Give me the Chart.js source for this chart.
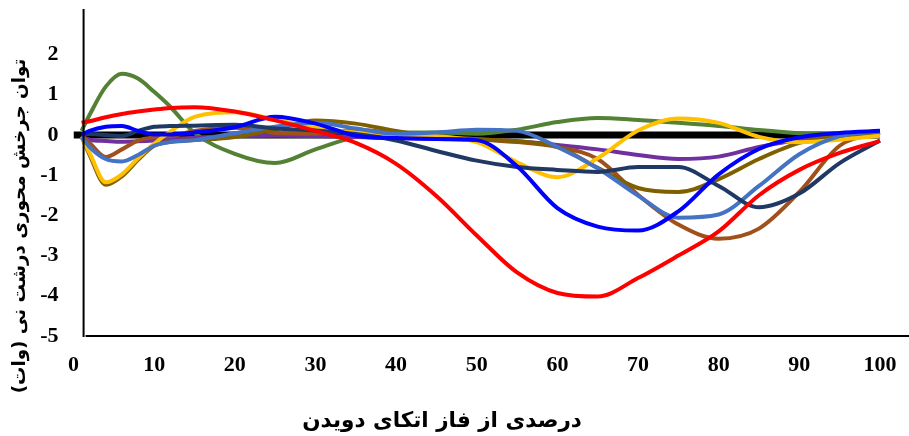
<!DOCTYPE html>
<html lang="fa">
<head>
<meta charset="UTF-8">
<title>توان چرخش محوری درشت نی</title>
<script src="https://cdn.jsdelivr.net/npm/chart.js"></script>
<style>
  html, body { margin: 0; padding: 0; background: #fff; }
  #wrap { width: 909px; height: 436px; }
</style>
</head>
<body>
<div id="wrap"><canvas id="power-chart"></canvas></div>
<script>
// percent of stance phase
const pct = [1, 2, 4, 6, 8, 10, 12, 15, 20, 25, 30, 35, 40, 45, 50, 55, 60, 65, 70, 75, 80, 85, 90, 95, 100];

const red       = [0.30, 0.34, 0.44, 0.52, 0.58, 0.63, 0.67, 0.69, 0.58, 0.36, 0.10, -0.20, -0.72, -1.52, -2.50, -3.42, -3.93, -4.02, -3.56, -3.00, -2.40, -1.50, -0.87, -0.45, -0.15];
const green     = [0.10, 0.50, 1.20, 1.52, 1.40, 1.07, 0.70, 0.05, -0.47, -0.70, -0.36, -0.05, 0.06, 0.06, 0.03, 0.13, 0.32, 0.42, 0.37, 0.30, 0.22, 0.12, 0.04, 0.00, -0.02];
const blue      = [0.00, 0.10, 0.20, 0.22, 0.10, 0.01, 0.01, 0.06, 0.19, 0.45, 0.28, -0.02, -0.08, -0.10, -0.13, -0.78, -1.82, -2.28, -2.38, -1.90, -0.98, -0.35, -0.06, 0.05, 0.10];
const gold      = [-0.05, -0.45, -1.18, -0.98, -0.58, -0.22, 0.08, 0.45, 0.56, 0.38, 0.18, 0.06, 0.00, -0.03, -0.18, -0.68, -1.05, -0.58, 0.11, 0.41, 0.30, -0.05, -0.18, -0.12, -0.02];
const olive     = [-0.05, -0.50, -1.24, -1.03, -0.62, -0.27, -0.17, -0.13, -0.05, 0.14, 0.36, 0.28, 0.10, -0.04, -0.11, -0.16, -0.30, -0.82, -1.32, -1.42, -1.10, -0.60, -0.20, -0.03, 0.02];
const lightBlue = [-0.05, -0.30, -0.60, -0.66, -0.50, -0.27, -0.18, -0.13, 0.04, 0.20, 0.30, 0.16, 0.03, 0.06, 0.13, 0.10, -0.30, -0.83, -1.51, -2.06, -1.98, -1.27, -0.48, -0.03, 0.10];
const brown     = [-0.02, -0.20, -0.55, -0.36, -0.14, -0.06, -0.03, 0.10, 0.18, 0.05, 0.03, 0.12, 0.04, -0.05, -0.11, -0.18, -0.30, -0.60, -1.49, -2.23, -2.58, -2.33, -1.42, -0.27, 0.06];
const navy      = [0.02, 0.02, 0.00, -0.03, 0.10, 0.20, 0.22, 0.23, 0.25, 0.16, 0.11, 0.02, -0.14, -0.40, -0.64, -0.80, -0.87, -0.92, -0.80, -0.80, -1.27, -1.80, -1.46, -0.70, -0.14];
const purple    = [-0.05, -0.12, -0.15, -0.17, -0.16, -0.14, -0.11, -0.07, -0.03, -0.02, -0.03, -0.05, -0.08, -0.10, -0.12, -0.16, -0.25, -0.36, -0.50, -0.60, -0.54, -0.30, -0.12, -0.03, 0.00];

// thick zero reference line
const baseX = [0, 100];
const baseY = [0, 0];

const xTicks = [0, 10, 20, 30, 40, 50, 60, 70, 80, 90, 100];
const yTicks = [-5, -4, -3, -2, -1, 0, 1, 2];

const xTitle = 'درصدی از فاز اتکای دویدن';
const yTitle = 'توان جرخش محوری درشت نی (وات)';

const series = [
    { values: red, color: '#FF0000' },
    { values: blue, color: '#0000FF' },
    { values: navy, color: '#203864' },
    { values: lightBlue, color: '#4472C4' },
    { values: gold, color: '#FFC000' },
    { values: olive, color: '#7F6000' },
    { values: brown, color: '#A0501A' },
    { values: purple, color: '#7030A0' },
    { values: green, color: '#548235' }
];

const toPoints = (xs, ys) => xs.map((x, i) => ({ x, y: ys[i] }));

const datasets = series.map(s => ({
    data: toPoints(pct, s.values),
    borderColor: s.color,
    borderWidth: 4,
    pointRadius: 0,
    cubicInterpolationMode: 'monotone',
    fill: false
}));

datasets.push({
    data: toPoints(baseX, baseY),
    borderColor: '#000',
    borderWidth: 7,
    borderCapStyle: 'butt',
    pointRadius: 0,
    fill: false
});

const tickFont = { family: '"Liberation Serif", "Times New Roman", serif', size: 22, weight: 'bold' };
const titleFamily = '"DejaVu Sans", sans-serif';

// the value axis crosses a little right of x = 0
const axisCrossX = 1.25;

function fitFont(ctx, text, width, size) {
    ctx.font = `bold ${size}px ${titleFamily}`;
    const w = ctx.measureText(text).width;
    const s = Math.min(size, size * width / w);
    ctx.font = `bold ${s}px ${titleFamily}`;
}

const frame = {
    id: 'frame',
    afterDatasetsDraw(chart) {
        const { ctx, chartArea } = chart;
        const x = chart.scales.x, y = chart.scales.y;
        const left = x.getPixelForValue(axisCrossX);
        const bottom = y.getPixelForValue(yTicks[0]);

        ctx.save();
        ctx.strokeStyle = '#000';
        ctx.lineWidth = 2;
        ctx.beginPath();
        ctx.moveTo(left, chartArea.top);
        ctx.lineTo(left, bottom + 1);
        ctx.moveTo(left + 2, bottom);
        ctx.lineTo(chartArea.right, bottom);
        ctx.stroke();

        ctx.fillStyle = '#000';
        ctx.direction = 'rtl';
        ctx.textAlign = 'center';
        ctx.textBaseline = 'middle';

        fitFont(ctx, xTitle, 280, 24);
        ctx.fillText(xTitle, 442, 421);

        ctx.translate(20, 226);
        ctx.rotate(-Math.PI / 2);
        fitFont(ctx, yTitle, 335, 24);
        ctx.fillText(yTitle, 0, 0);
        ctx.restore();
    }
};

new Chart(document.getElementById('power-chart'), {
    type: 'line',
    data: { datasets },
    options: {
        responsive: true,
        maintainAspectRatio: false,
        animation: false,
        layout: { padding: { top: 9, right: 0, bottom: 0, left: 0 } },
        plugins: {
            legend: { display: false },
            tooltip: { enabled: false }
        },
        scales: {
            x: {
                type: 'linear',
                min: 0,
                max: 103.6,
                grid: { display: false, drawTicks: false },
                border: { display: false },
                ticks: { font: tickFont, color: '#000', padding: 16, maxRotation: 0 },
                afterBuildTicks: scale => { scale.ticks = xTicks.map(v => ({ value: v })); },
                afterFit: scale => {
                    scale.height = 100;
                    scale.paddingLeft = 0;
                    scale.paddingRight = 0;
                }
            },
            y: {
                min: -5,
                max: 3.13,
                grid: { display: false, drawTicks: false },
                border: { display: false },
                ticks: { font: tickFont, color: '#000', padding: 15 },
                afterBuildTicks: scale => { scale.ticks = yTicks.map(v => ({ value: v })); },
                afterFit: scale => {
                    scale.width = 73.5;
                    scale.paddingTop = 0;
                    scale.paddingBottom = 0;
                }
            }
        }
    },
    plugins: [frame]
});
</script>
</body>
</html>
